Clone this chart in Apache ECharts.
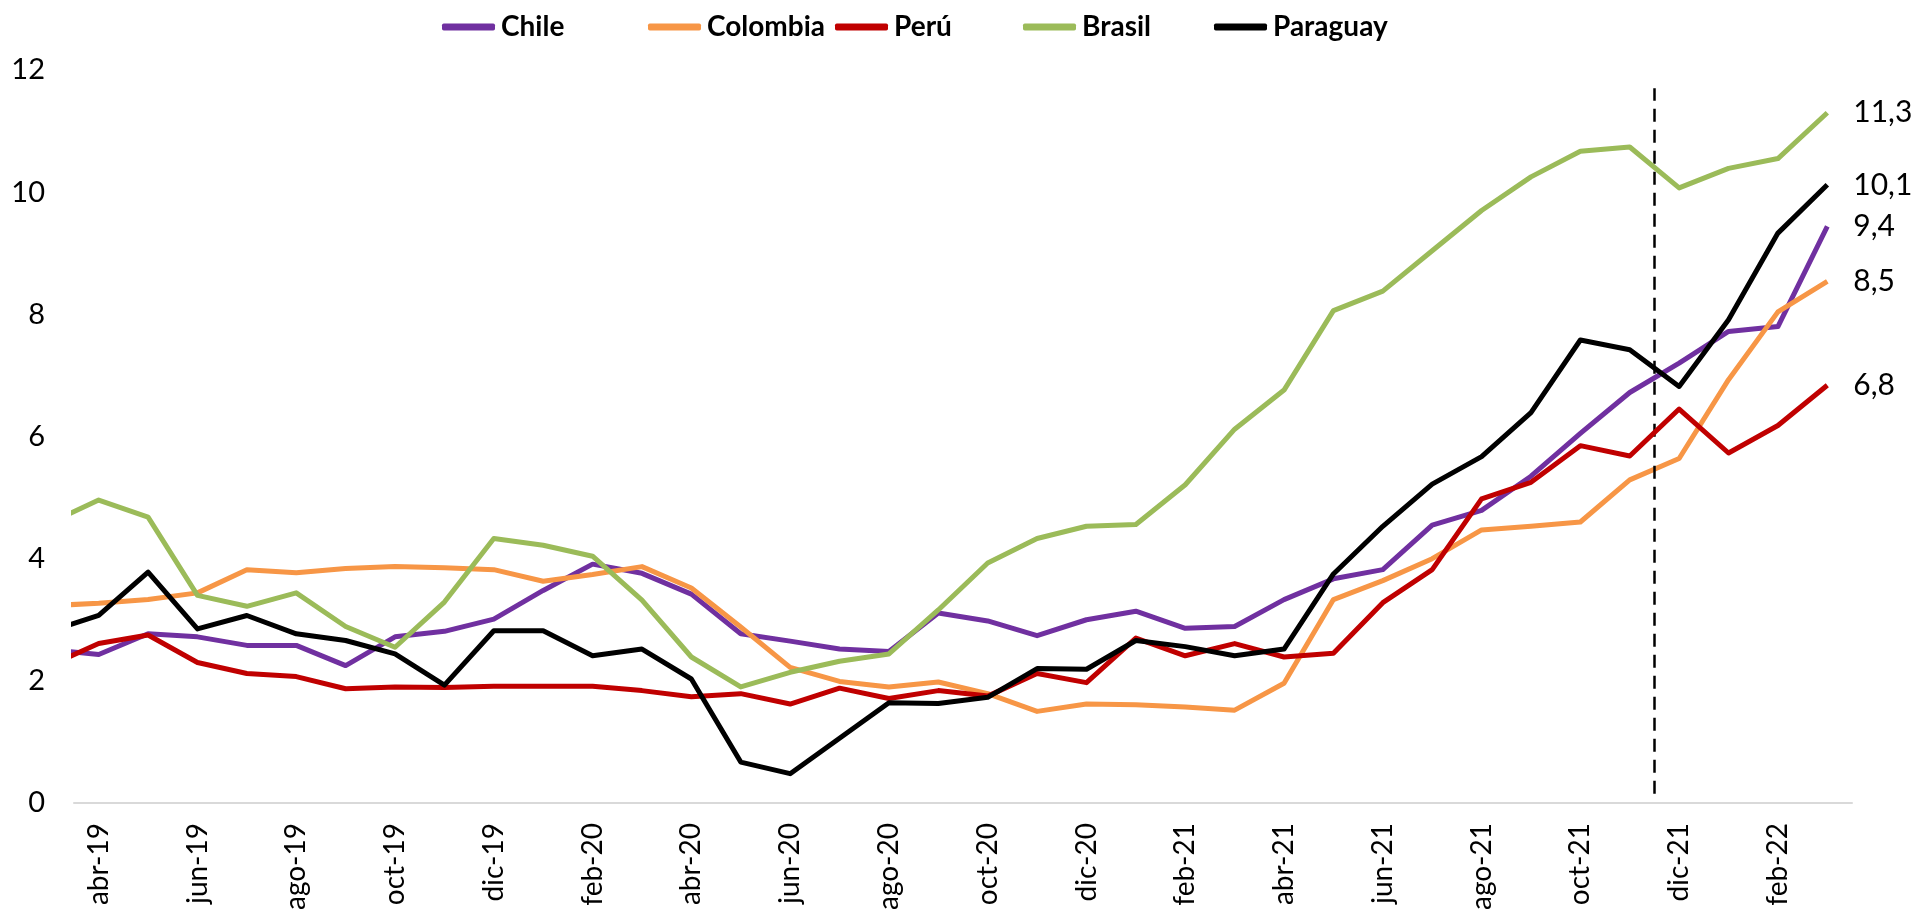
<!DOCTYPE html>
<html>
<head>
<meta charset="utf-8">
<script src="https://cdn.jsdelivr.net/npm/echarts@6/dist/echarts.min.js"></script>
<style>
html, body { margin: 0; padding: 0; background: #fff; }
#chart { width: 1919px; height: 911px; }
</style>
</head>
<body>
<div id="chart"></div>
<script>
// meses; el primero (mar-19) queda recortado en el borde izquierdo
const meses = ['mar-19',
    'abr-19', 'may-19', 'jun-19', 'jul-19', 'ago-19', 'sep-19', 'oct-19', 'nov-19', 'dic-19',
    'ene-20', 'feb-20', 'mar-20', 'abr-20', 'may-20', 'jun-20', 'jul-20', 'ago-20', 'sep-20',
    'oct-20', 'nov-20', 'dic-20', 'ene-21', 'feb-21', 'mar-21', 'abr-21', 'may-21', 'jun-21',
    'jul-21', 'ago-21', 'sep-21', 'oct-21', 'nov-21', 'dic-21', 'ene-22', 'feb-22', 'mar-22'];

const chile = [2.51, 2.43, 2.77, 2.72, 2.58, 2.58, 2.25, 2.72, 2.81, 3.01, 3.48, 3.91, 3.76, 3.42,
    2.77, 2.65, 2.52, 2.48, 3.11, 2.98, 2.74, 3.00, 3.14, 2.86, 2.89, 3.33, 3.67, 3.82, 4.55,
    4.79, 5.35, 6.05, 6.72, 7.20, 7.72, 7.80, 9.44];
const colombia = [3.23, 3.27, 3.33, 3.44, 3.82, 3.77, 3.84, 3.87, 3.85, 3.82, 3.63, 3.74, 3.87, 3.52,
    2.88, 2.22, 1.99, 1.90, 1.98, 1.79, 1.50, 1.62, 1.61, 1.57, 1.52, 1.96, 3.33, 3.64, 4.00,
    4.47, 4.53, 4.60, 5.29, 5.64, 6.93, 8.04, 8.54];
const peru = [2.25, 2.61, 2.75, 2.30, 2.12, 2.07, 1.87, 1.90, 1.89, 1.91, 1.91, 1.91, 1.84, 1.74,
    1.79, 1.62, 1.88, 1.71, 1.84, 1.75, 2.12, 1.97, 2.70, 2.41, 2.61, 2.39, 2.45, 3.28, 3.82,
    4.98, 5.25, 5.85, 5.68, 6.45, 5.73, 6.18, 6.84];
const brasil = [4.58, 4.96, 4.68, 3.40, 3.22, 3.44, 2.89, 2.55, 3.29, 4.33, 4.22, 4.04, 3.32, 2.39,
    1.90, 2.14, 2.32, 2.44, 3.16, 3.93, 4.33, 4.53, 4.56, 5.21, 6.12, 6.76, 8.06, 8.38, 9.04,
    9.70, 10.25, 10.67, 10.74, 10.07, 10.39, 10.55, 11.30];
const paraguay = [2.81, 3.07, 3.78, 2.85, 3.07, 2.77, 2.66, 2.44, 1.93, 2.82, 2.82, 2.41, 2.52, 2.03,
    0.67, 0.48, 1.06, 1.64, 1.63, 1.73, 2.20, 2.19, 2.66, 2.56, 2.41, 2.52, 3.75, 4.53, 5.22,
    5.67, 6.39, 7.58, 7.42, 6.82, 7.91, 9.33, 10.12];

const paises = ['Chile', 'Colombia', 'Perú', 'Brasil', 'Paraguay'];
const valores = [chile, colombia, peru, brasil, paraguay];
const colores = ['#7030A0', '#F79646', '#C00000', '#9BBB59', '#000000'];
const legendLeft = [437, 643, 830, 1018, 1209];

// linea vertical punteada antes de dic-21
const mesCorte = 'dic-21';
const corteTope = 11.7;

const font = 'Lato, "Open Sans", sans-serif';
const pos = i => i - 0.5;   // centro del mes en el eje de valores 0..36
const corte = meses.indexOf(mesCorte) - 1;

const series = paises.map(function (p, k) {
    let s = {
        name: p,
        type: 'line',
        xAxisIndex: 1,
        symbol: 'none',
        color: colores[k],
        lineStyle: { width: 5, color: colores[k], join: 'round' },
        data: valores[k].map((v, i) => [pos(i), v]),
        endLabel: {
            show: true,
            distance: 26,
            fontFamily: font,
            fontSize: 30,
            color: '#000',
            formatter: prm => prm.value[1].toFixed(1).replace('.', ',')
        },
        z: 3 + k
    };
    return s;
});
series[0].markLine = {
    silent: true,
    symbol: 'none',
    label: { show: false },
    lineStyle: { color: '#000', width: 2.5, type: [13, 8] },
    data: [[{ coord: [corte, 0.15] }, { coord: [corte, corteTope] }]]
};

const legends = paises.map((p, k) => ({
    data: [p],
    left: legendLeft[k],
    top: 8,
    icon: 'roundRect',
    itemWidth: 53,
    itemHeight: 7,
    selectedMode: false,
    textStyle: { fontFamily: font, fontWeight: 'bold', fontSize: 28, color: '#000', padding: [0, 0, 0, 1] }
}));

const chart = echarts.init(document.getElementById('chart'));
chart.setOption({
    animation: false,
    backgroundColor: '#fff',
    legend: legends,
    grid: { left: 74, right: 67, top: 70, bottom: 108, containLabel: false, outerBoundsMode: 'none' },
    xAxis: [
        {
            type: 'category',
            data: meses.slice(1),
            boundaryGap: true,
            axisLine: { lineStyle: { color: '#D9D9D9', width: 2 } },
            axisTick: { interval: 1, length: 10, lineStyle: { color: '#D9D9D9', width: 2 } },
            axisLabel: {
                interval: 1,
                rotate: 90,
                margin: 20,
                fontFamily: font,
                fontSize: 28,
                color: '#000'
            },
            splitLine: { show: false }
        },
        {
            type: 'value',
            min: 0,
            max: 36,
            show: false
        }
    ],
    yAxis: {
        type: 'value',
        min: 0,
        max: 12,
        interval: 2,
        axisLine: { show: false },
        axisTick: { show: false },
        splitLine: { show: false },
        axisLabel: { margin: 29, fontFamily: font, fontSize: 29, color: '#000' }
    },
    series: series
});
</script>
</body>
</html>
